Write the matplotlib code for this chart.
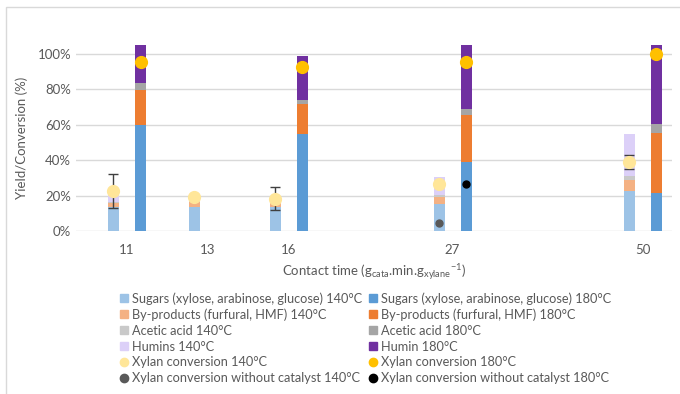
import numpy as np
import matplotlib
matplotlib.use("Agg")
import matplotlib.pyplot as plt
from matplotlib.lines import Line2D
from matplotlib.patches import Rectangle

# ---------------- data ----------------
contact_times = ["11", "13", "16", "27", "50"]

sugars_140 = [13.8, 13.8, 13.5, 15.3, 22.3]
byprod_140 = [2.0, 2.8, 2.8, 4.1, 6.6]
acetic_140 = [0.5, 0.4, 0.5, 1.1, 2.4]
humins_140 = [5.2, 0.8, 0.8, 9.9, 23.6]

sugars_180 = [60.0, np.nan, 54.7, 38.7, 21.3]
byprod_180 = [19.8, np.nan, 17.2, 26.6, 34.3]
acetic_180 = [3.8, np.nan, 1.8, 3.4, 4.9]
humin_180 = [25.0, np.nan, 25.3, 40.0, 45.0]

conv_140 = [22.5, 19.4, 18.3, 26.8, 38.9]
conv_140_err = [9.5, 0.0, 6.4, 0.0, 3.8]
conv_180 = [95.5, np.nan, 92.6, 95.5, 100.0]
nocat_140 = [np.nan, np.nan, np.nan, 4.3, np.nan]
nocat_180 = [np.nan, np.nan, np.nan, 26.4, np.nan]

# ---------------- layout / style ----------------
group_pos = np.array([0.0, 1.0, 2.0, 4.02, 6.37])
off = 0.167
width = 0.136

c_sug140, c_sug180 = "#9DC3E6", "#5B9BD5"
c_byp140, c_byp180 = "#F4B183", "#ED7D31"
c_ace140, c_ace180 = "#C9C9C9", "#A5A5A5"
c_hum140, c_hum180 = "#DCD0F8", "#7030A0"
c_conv140, c_conv180 = "#FFE699", "#FFC000"
c_noc140, c_noc180 = "#595959", "#000000"
txt = "#595959"

plt.rcParams['font.family'] = ['Lato', 'DejaVu Sans']
plt.rcParams['axes.unicode_minus'] = False

fig = plt.figure(figsize=(6.8, 3.94), dpi=100)
ax = fig.add_axes([76/680, 1-231/394, (672-76)/680, (231-45)/394])

x140 = group_pos - off
x180 = group_pos + off

def stack(xs, series, colors):
    bottom = np.zeros(len(xs))
    for vals, col in zip(series, colors):
        v = np.nan_to_num(np.array(vals, dtype=float))
        ax.bar(xs, v, width=width, bottom=bottom, color=col, zorder=2, linewidth=0)
        bottom = bottom + v

stack(x140, [sugars_140, byprod_140, acetic_140, humins_140],
      [c_sug140, c_byp140, c_ace140, c_hum140])
stack(x180, [sugars_180, byprod_180, acetic_180, humin_180],
      [c_sug180, c_byp180, c_ace180, c_hum180])

err = np.array(conv_140_err)
mask = err > 0
ax.errorbar(x140[mask], np.array(conv_140)[mask], yerr=err[mask], fmt='none',
            ecolor="#404040", elinewidth=1, capsize=3.5, capthick=1, zorder=3)
ax.plot(x140, conv_140, 'o', color=c_conv140, ms=8.5, zorder=4, linestyle='none')
ax.plot(x180, conv_180, 'o', color=c_conv180, ms=8.5, zorder=4, linestyle='none')
ax.plot(x140, nocat_140, 'o', color=c_noc140, ms=5, zorder=4, linestyle='none')
ax.plot(x180, nocat_180, 'o', color=c_noc180, ms=5, zorder=4, linestyle='none')

ax.set_ylim(0, 105)
ax.set_xlim(-0.63, 6.73)
ax.set_yticks([0, 20, 40, 60, 80, 100])
ax.set_yticklabels([f"{v}%" for v in [0, 20, 40, 60, 80, 100]])
ax.set_xticks(group_pos)
ax.set_xticklabels(contact_times)
ax.yaxis.grid(True, color="#D9D9D9", linewidth=1, zorder=0)
ax.set_axisbelow(True)
for s in ax.spines.values():
    s.set_visible(False)
ax.tick_params(axis='both', length=0, colors=txt, labelsize=9.5)
ax.tick_params(axis='x', pad=9)
ax.set_ylabel("Yield/Conversion (%)", color=txt, fontsize=9.5, labelpad=7)
ax.set_xlabel(r"Contact time (g$_{\mathregular{cata}}$.min.g$_{\mathregular{xylane}}$$^{\mathregular{-1}}$)",
              color=txt, fontsize=9.5, labelpad=5)

def sq(c):
    return Line2D([], [], marker='s', color=c, linestyle='none', markersize=5.5)
def ci(c):
    return Line2D([], [], marker='o', color=c, linestyle='none', markersize=6)

handles = [sq(c_sug140), sq(c_byp140), sq(c_ace140), sq(c_hum140), ci(c_conv140), ci(c_noc140),
           sq(c_sug180), sq(c_byp180), sq(c_ace180), sq(c_hum180), ci(c_conv180), ci(c_noc180)]
labels = ["Sugars (xylose, arabinose, glucose) 140°C",
          "By-products (furfural, HMF) 140°C",
          "Acetic acid 140°C",
          "Humins 140°C",
          "Xylan conversion 140°C",
          "Xylan conversion without catalyst 140°C",
          "Sugars (xylose, arabinose, glucose) 180°C",
          "By-products (furfural, HMF) 180°C",
          "Acetic acid 180°C",
          "Humin 180°C",
          "Xylan conversion 180°C",
          "Xylan conversion without catalyst 180°C"]
leg = fig.legend(handles, labels, ncol=2, loc='upper left',
                 bbox_to_anchor=(120/680, 1-292/394), frameon=False,
                 fontsize=9.2, handlelength=0.6, handletextpad=0.3,
                 columnspacing=0.6, labelspacing=0.3, borderpad=0,
                 borderaxespad=0)
for t in leg.get_texts():
    t.set_color(txt)

fig.patches.append(Rectangle((6/680, -0.1), 1.2, 1 - 7/394 + 0.1, transform=fig.transFigure,
                             fill=False, edgecolor="#D9D9D9", linewidth=1))

fig.savefig("out.png", dpi=100)
